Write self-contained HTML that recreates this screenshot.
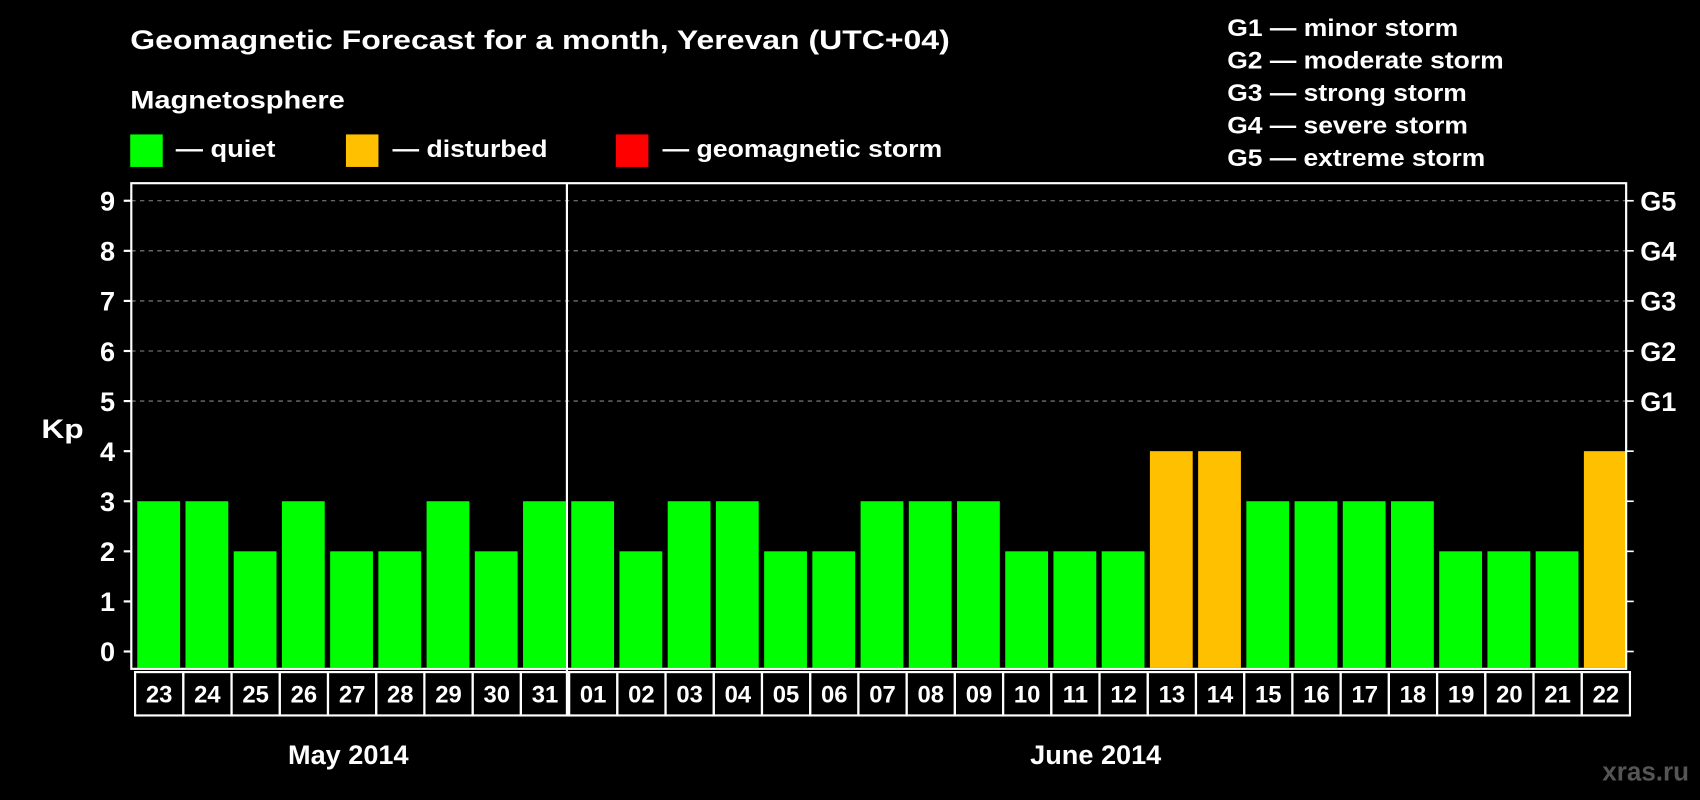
<!DOCTYPE html>
<html><head><meta charset="utf-8"><style>
html,body{margin:0;padding:0;background:#000;}
svg{display:block;font-family:"Liberation Sans",sans-serif;font-weight:bold;}
</style></head><body>
<svg id="chart" width="1700" height="800" viewBox="0 0 1568 738" xmlns="http://www.w3.org/2000/svg">
<rect width="1568" height="738" fill="#000"/>
<text x="120" y="45" fill="#fff" font-size="25" textLength="756" lengthAdjust="spacingAndGlyphs">Geomagnetic Forecast for a month, Yerevan (UTC+04)</text>
<text x="120" y="100" fill="#fff" font-size="23" textLength="198" lengthAdjust="spacingAndGlyphs">Magnetosphere</text>
<g><rect x="120" y="124" width="30" height="30" fill="#00ff00"/><text x="162" y="145" fill="#fff" font-size="22" textLength="92" lengthAdjust="spacingAndGlyphs">— quiet</text></g>
<g><rect x="319" y="124" width="30" height="30" fill="#ffc000"/><text x="362" y="145" fill="#fff" font-size="22" textLength="143" lengthAdjust="spacingAndGlyphs">— disturbed</text></g>
<g><rect x="568" y="124" width="30" height="30" fill="#ff0000"/><text x="611" y="145" fill="#fff" font-size="22" textLength="258" lengthAdjust="spacingAndGlyphs">— geomagnetic storm</text></g>
<g fill="#fff" font-size="22">
<text x="1132" y="33" textLength="213" lengthAdjust="spacingAndGlyphs">G1 — minor storm</text>
<text x="1132" y="63" textLength="255" lengthAdjust="spacingAndGlyphs">G2 — moderate storm</text>
<text x="1132" y="93" textLength="221" lengthAdjust="spacingAndGlyphs">G3 — strong storm</text>
<text x="1132" y="123" textLength="222" lengthAdjust="spacingAndGlyphs">G4 — severe storm</text>
<text x="1132" y="153" textLength="238" lengthAdjust="spacingAndGlyphs">G5 — extreme storm</text>
</g>
<text x="38" y="404" fill="#fff" font-size="25" textLength="39" lengthAdjust="spacingAndGlyphs">Kp</text>
<g id="grid"></g>
<g id="bars"></g>
<g id="axes"></g>
<text x="1558" y="720" text-anchor="end" fill="#555" font-size="24">xras.ru</text>
</svg>
<script>
const days = ["23","24","25","26","27","28","29","30","31","01","02","03","04","05","06","07","08","09","10","11","12","13","14","15","16","17","18","19","20","21","22"];
const kpValues = [3,3,2,3,2,2,3,2,3,3,2,3,3,2,2,3,3,3,2,2,2,4,4,3,3,3,3,2,2,2,4];
const yTicks = [0,1,2,3,4,5,6,7,8,9];
const gLabels = ["G1","G2","G3","G4","G5"];
const gLevels = [5,6,7,8,9];
const months = ["May 2014","June 2014"];
const monthStartIdx = [0,9];

(function(){
const NS = "http://www.w3.org/2000/svg";
const pLeft = 121, pRight = 1500, pTop = 169, pBottom = 617;
const slot = (pRight - pLeft) / days.length;
function yS(v){ return 601 - v * 46.2; }
function xS(i){ return pLeft + i * slot; }
function mk(tag, attrs, parent){ const e = document.createElementNS(NS, tag); for (const k in attrs) e.setAttribute(k, attrs[k]); parent.appendChild(e); return e; }
const grid = document.getElementById('grid'), bars = document.getElementById('bars'), axes = document.getElementById('axes');

gLevels.forEach((lv, i) => {
  const l = mk('line', {x1:pLeft, x2:pRight, y1:yS(lv), y2:yS(lv), stroke:'#888', 'stroke-width':1, 'stroke-dasharray':'4,4'}, grid);
  
  
  const t = mk('text', {x:1513, y:yS(lv)+9, fill:'#fff', 'font-size':25}, axes);
  t.textContent = gLabels[i];
  
  
});

kpValues.forEach((v, i) => {
  const color = v >= 5 ? '#ff0000' : (v >= 4 ? '#ffc000' : '#00ff00');
  const r = mk('rect', {x:xS(i)+5.5, y:yS(v), width:slot-5, height:pBottom-1-yS(v), fill:color}, bars);
  
  
  const c = mk('rect', {x:xS(i)+3.5, y:620, width:slot, height:40, fill:'none', stroke:'#fff', 'stroke-width':2}, axes);
  
  
  const t = mk('text', {x:xS(i)+3.5+slot/2, y:648, 'text-anchor':'middle', fill:'#fff', 'font-size':22}, axes);
  t.textContent = days[i];
  
  
});

yTicks.forEach(v => {
  const t = mk('text', {x:106, y:yS(v)+9, 'text-anchor':'end', fill:'#fff', 'font-size':25}, axes);
  t.textContent = v;
  
  
  mk('line', {x1:114, x2:pLeft, y1:yS(v), y2:yS(v), stroke:'#fff', 'stroke-width':2}, axes);
  mk('line', {x1:pRight, x2:pRight+7, y1:yS(v), y2:yS(v), stroke:'#fff', 'stroke-width':1.5}, axes);
});

const frame = mk('rect', {x:pLeft, y:pTop, width:pRight-pLeft, height:pBottom-pTop, fill:'none', stroke:'#fff', 'stroke-width':2}, axes);


const div = mk('line', {x1:xS(monthStartIdx[1])+1.5, x2:xS(monthStartIdx[1])+1.5, y1:pTop, y2:660, stroke:'#fff', 'stroke-width':2}, axes);



months.forEach((m, i) => {
  const s = monthStartIdx[i], e = (i+1 < monthStartIdx.length ? monthStartIdx[i+1] : days.length);
  const t = mk('text', {x:(xS(s)+xS(e))/2, y:705, 'text-anchor':'middle', fill:'#fff', 'font-size':25}, axes);
  t.textContent = m;
  
  
});
})();
</script>
</body></html>
